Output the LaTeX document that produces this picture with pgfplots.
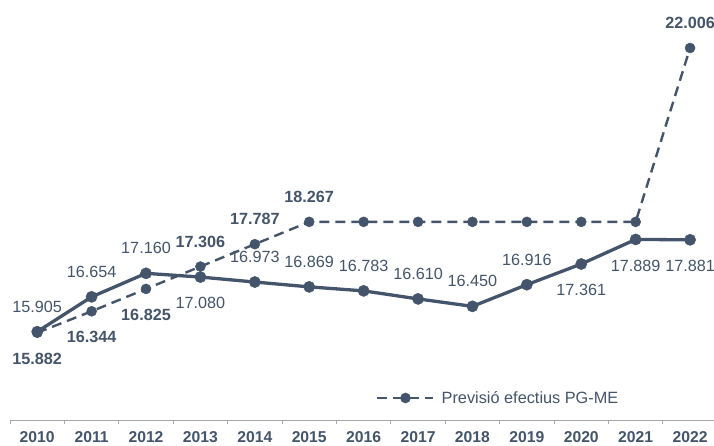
\documentclass[border=0pt]{standalone}
\usepackage{pgfplots}
\pgfplotsset{compat=1.18}
\usepackage{pgfplotstable}
\usepackage{fontspec}
\setmainfont{Liberation Sans}
\definecolor{slate}{HTML}{44546A}
\definecolor{axisgray}{HTML}{A6A6A6}

% efectius reals
\pgfplotstableread{
x  y      dy   lbl
0  15905  25   15.905
1  16654  25   16.654
2  17160  25   17.160
3  17080  -26  17.080
4  16973  25   16.973
5  16869  25   16.869
6  16783  25   16.783
7  16610  25   16.610
8  16450  25   16.450
9  16916  25   16.916
10 17361  -26  17.361
11 17889  -26  17.889
12 17881  -26  17.881
}\real

% previsio PG-ME
\pgfplotstableread{
x  y      dy   lbl
0  15882  -26  15.882
1  16344  -26  16.344
2  16825  -26  16.825
3  17306  25   17.306
4  17787  25   17.787
5  18267  25   18.267
6  18267  0    {}
7  18267  0    {}
8  18267  0    {}
9  18267  0    {}
10 18267  0    {}
11 18267  0    {}
12 22006  25   22.006
}\prev

\begin{document}
\begin{tikzpicture}
\begin{axis}[
    scale only axis,
    width=704pt, height=420pt,
    xmin=-0.5, xmax=12.44,
    ymin=14006, ymax=23038,
    clip=false,
    hide y axis,
    axis x line=bottom,
    x axis line style={-, axisgray, line width=0.8pt},
    xtick={0,...,12},
    xticklabels={2010,2011,2012,2013,2014,2015,2016,2017,2018,2019,2020,2021,2022},
    major tick length=0pt,
    minor xtick={-0.5,0.5,...,11.5},
    minor tick length=4pt,
    tick align=outside,
    tick style={axisgray, line width=0.8pt},
    xticklabel style={font=\bfseries\fontsize{15.7}{18}\selectfont, text=slate, yshift=-8pt},
    ytick=\empty,
    legend style={draw=none, fill=none, at={(0.52,0.0524)}, anchor=west, inner sep=0pt,
        column sep=5pt, font=\fontsize{16.3}{18}\selectfont, text=slate},
    legend image code/.code={\draw[mark repeat=2, mark phase=2, #1] plot coordinates {(0pt,0pt) (28pt,0pt) (56pt,0pt)};},
]
\addplot[slate, line width=3.3pt, mark=*, mark size=5.6pt, mark options={line width=0.5pt, fill=slate},
    forget plot,
    point meta=explicit symbolic,
    visualization depends on={\thisrow{dy}\as\dy},
    nodes near coords,
    every node near coord/.style={anchor=center, yshift=\dy pt, font=\fontsize{16.2}{18}\selectfont, text=slate}]
    table[x=x, y=y, meta=lbl]{\real};

\addplot[slate, line width=2.4pt, dash pattern=on 10pt off 6pt, mark=*, mark size=5pt,
    mark options={solid, line width=0.5pt, fill=slate},
    point meta=explicit symbolic,
    visualization depends on={\thisrow{dy}\as\dy},
    nodes near coords,
    every node near coord/.style={anchor=center, yshift=\dy pt, font=\bfseries\fontsize{16.2}{18}\selectfont, text=slate}]
    table[x=x, y=y, meta=lbl]{\prev};
\addlegendentry{Previsió efectius PG-ME}
\end{axis}
\pgfresetboundingbox
\path (current axis.south west) ++(-10pt,-25pt) rectangle (current axis.north east);
\end{tikzpicture}
\end{document}
